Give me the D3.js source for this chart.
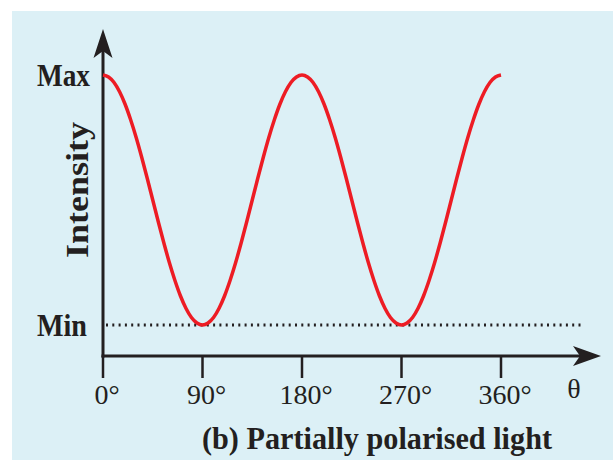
<!DOCTYPE html>
<html><head><meta charset="utf-8">
<script src="https://cdn.jsdelivr.net/npm/d3@7"></script>
<style>body{margin:0;background:#fff}svg{display:block}</style>
</head><body>
<script>
const angles = [0, 90, 180, 270, 360];
const tickLabels = ["0°", "90°", "180°", "270°", "360°"];
const levelLabels = ["Min", "Max"];
const levels = [0, 1];
// intensity samples: I = Min + (Max-Min)·cos²θ, sampled every 5°
const thetaDeg = [0,5,10,15,20,25,30,35,40,45,50,55,60,65,70,75,80,85,90,95,100,105,110,115,120,125,130,135,140,145,150,155,160,165,170,175,180,185,190,195,200,205,210,215,220,225,230,235,240,245,250,255,260,265,270,275,280,285,290,295,300,305,310,315,320,325,330,335,340,345,350,355,360];
const intensity = [1,0.992,0.970,0.933,0.883,0.821,0.750,0.671,0.587,0.5,0.413,0.329,0.25,0.179,0.117,0.067,0.030,0.008,0,0.008,0.030,0.067,0.117,0.179,0.25,0.329,0.413,0.5,0.587,0.671,0.75,0.821,0.883,0.933,0.970,0.992,1,0.992,0.970,0.933,0.883,0.821,0.750,0.671,0.587,0.5,0.413,0.329,0.25,0.179,0.117,0.067,0.030,0.008,0,0.008,0.030,0.067,0.117,0.179,0.25,0.329,0.413,0.5,0.587,0.671,0.75,0.821,0.883,0.933,0.970,0.992,1];

const W = 613, H = 460;
const svg = d3.select("body").append("svg").attr("width", W).attr("height", H);
svg.append("rect").attr("x", 12).attr("y", 11).attr("width", W - 12).attr("height", H - 11).attr("fill", "#dcf0f6");

const x = d3.scaleLinear().domain([0, 360]).range([103, 501]);
const y = d3.scaleLinear().domain([0, 1]).range([325, 75]);
const x0 = 103, yAxis = 356;
const serif = "'Liberation Serif', 'Times New Roman', serif";
const ink = "#231f20";

// dotted min line
svg.append("line").attr("x1", 106).attr("x2", 582).attr("y1", y(0)).attr("y2", y(0))
  .attr("stroke", ink).attr("stroke-width", 3).attr("stroke-dasharray", "2,4.3");

// axes
svg.append("line").attr("x1", x0).attr("x2", x0).attr("y1", 50).attr("y2", yAxis + 1.5)
  .attr("stroke", ink).attr("stroke-width", 3);
svg.append("line").attr("x1", x0 - 1.5).attr("x2", 585).attr("y1", yAxis).attr("y2", yAxis)
  .attr("stroke", ink).attr("stroke-width", 3);
// arrowheads
svg.append("path").attr("d", `M${x0},29 L${x0+9.5},58 L${x0},51 L${x0-9.5},58 Z`).attr("fill", ink);
svg.append("path").attr("d", `M601,${yAxis} L573,${yAxis-10} L580,${yAxis} L573,${yAxis+10} Z`).attr("fill", ink);

// x ticks
const xg = svg.append("g");
xg.selectAll("line").data(angles).join("line")
  .attr("x1", d => x(d)).attr("x2", d => x(d)).attr("y1", yAxis).attr("y2", 378)
  .attr("stroke", ink).attr("stroke-width", 2.5);
xg.selectAll("text").data(angles).join("text")
  .attr("x", d => x(d) + 4).attr("y", 404).attr("text-anchor", "middle")
  .attr("font-family", serif).attr("font-size", 28).attr("fill", ink)
  .text((d, i) => tickLabels[i]);
svg.append("text").attr("x", 574).attr("y", 398).attr("text-anchor", "middle")
  .attr("font-family", serif).attr("font-size", 28).attr("fill", ink).text("θ");

// y labels
svg.selectAll("text.lvl").data(levels).join("text").attr("class", "lvl")
  .attr("x", 37).attr("y", d => y(d) + 11)
  .attr("font-family", serif).attr("font-weight", "bold").attr("font-size", 31).attr("fill", ink)
  .attr("textLength", (d, i) => i === 1 ? 53 : 50).attr("lengthAdjust", "spacingAndGlyphs")
  .text((d, i) => levelLabels[i]);
svg.append("text").attr("transform", "translate(88,190) rotate(-90)").attr("text-anchor", "middle")
  .attr("font-family", serif).attr("font-weight", "bold").attr("font-size", 31).attr("fill", ink)
  .attr("textLength", 136).attr("lengthAdjust", "spacingAndGlyphs")
  .text("Intensity");

// curve
const line = d3.line().x(d => x(d[0])).y(d => y(d[1])).curve(d3.curveMonotoneX);
svg.append("path").datum(thetaDeg.map((t, i) => [t, intensity[i]]))
  .attr("d", line).attr("fill", "none").attr("stroke", "#ed1c24").attr("stroke-width", 3.5);

// caption
svg.append("text").attr("x", 202).attr("y", 449)
  .attr("font-family", serif).attr("font-weight", "bold").attr("font-size", 31).attr("fill", ink)
  .attr("textLength", 350).attr("lengthAdjust", "spacingAndGlyphs")
  .text("(b) Partially polarised light");
</script>
</body></html>
